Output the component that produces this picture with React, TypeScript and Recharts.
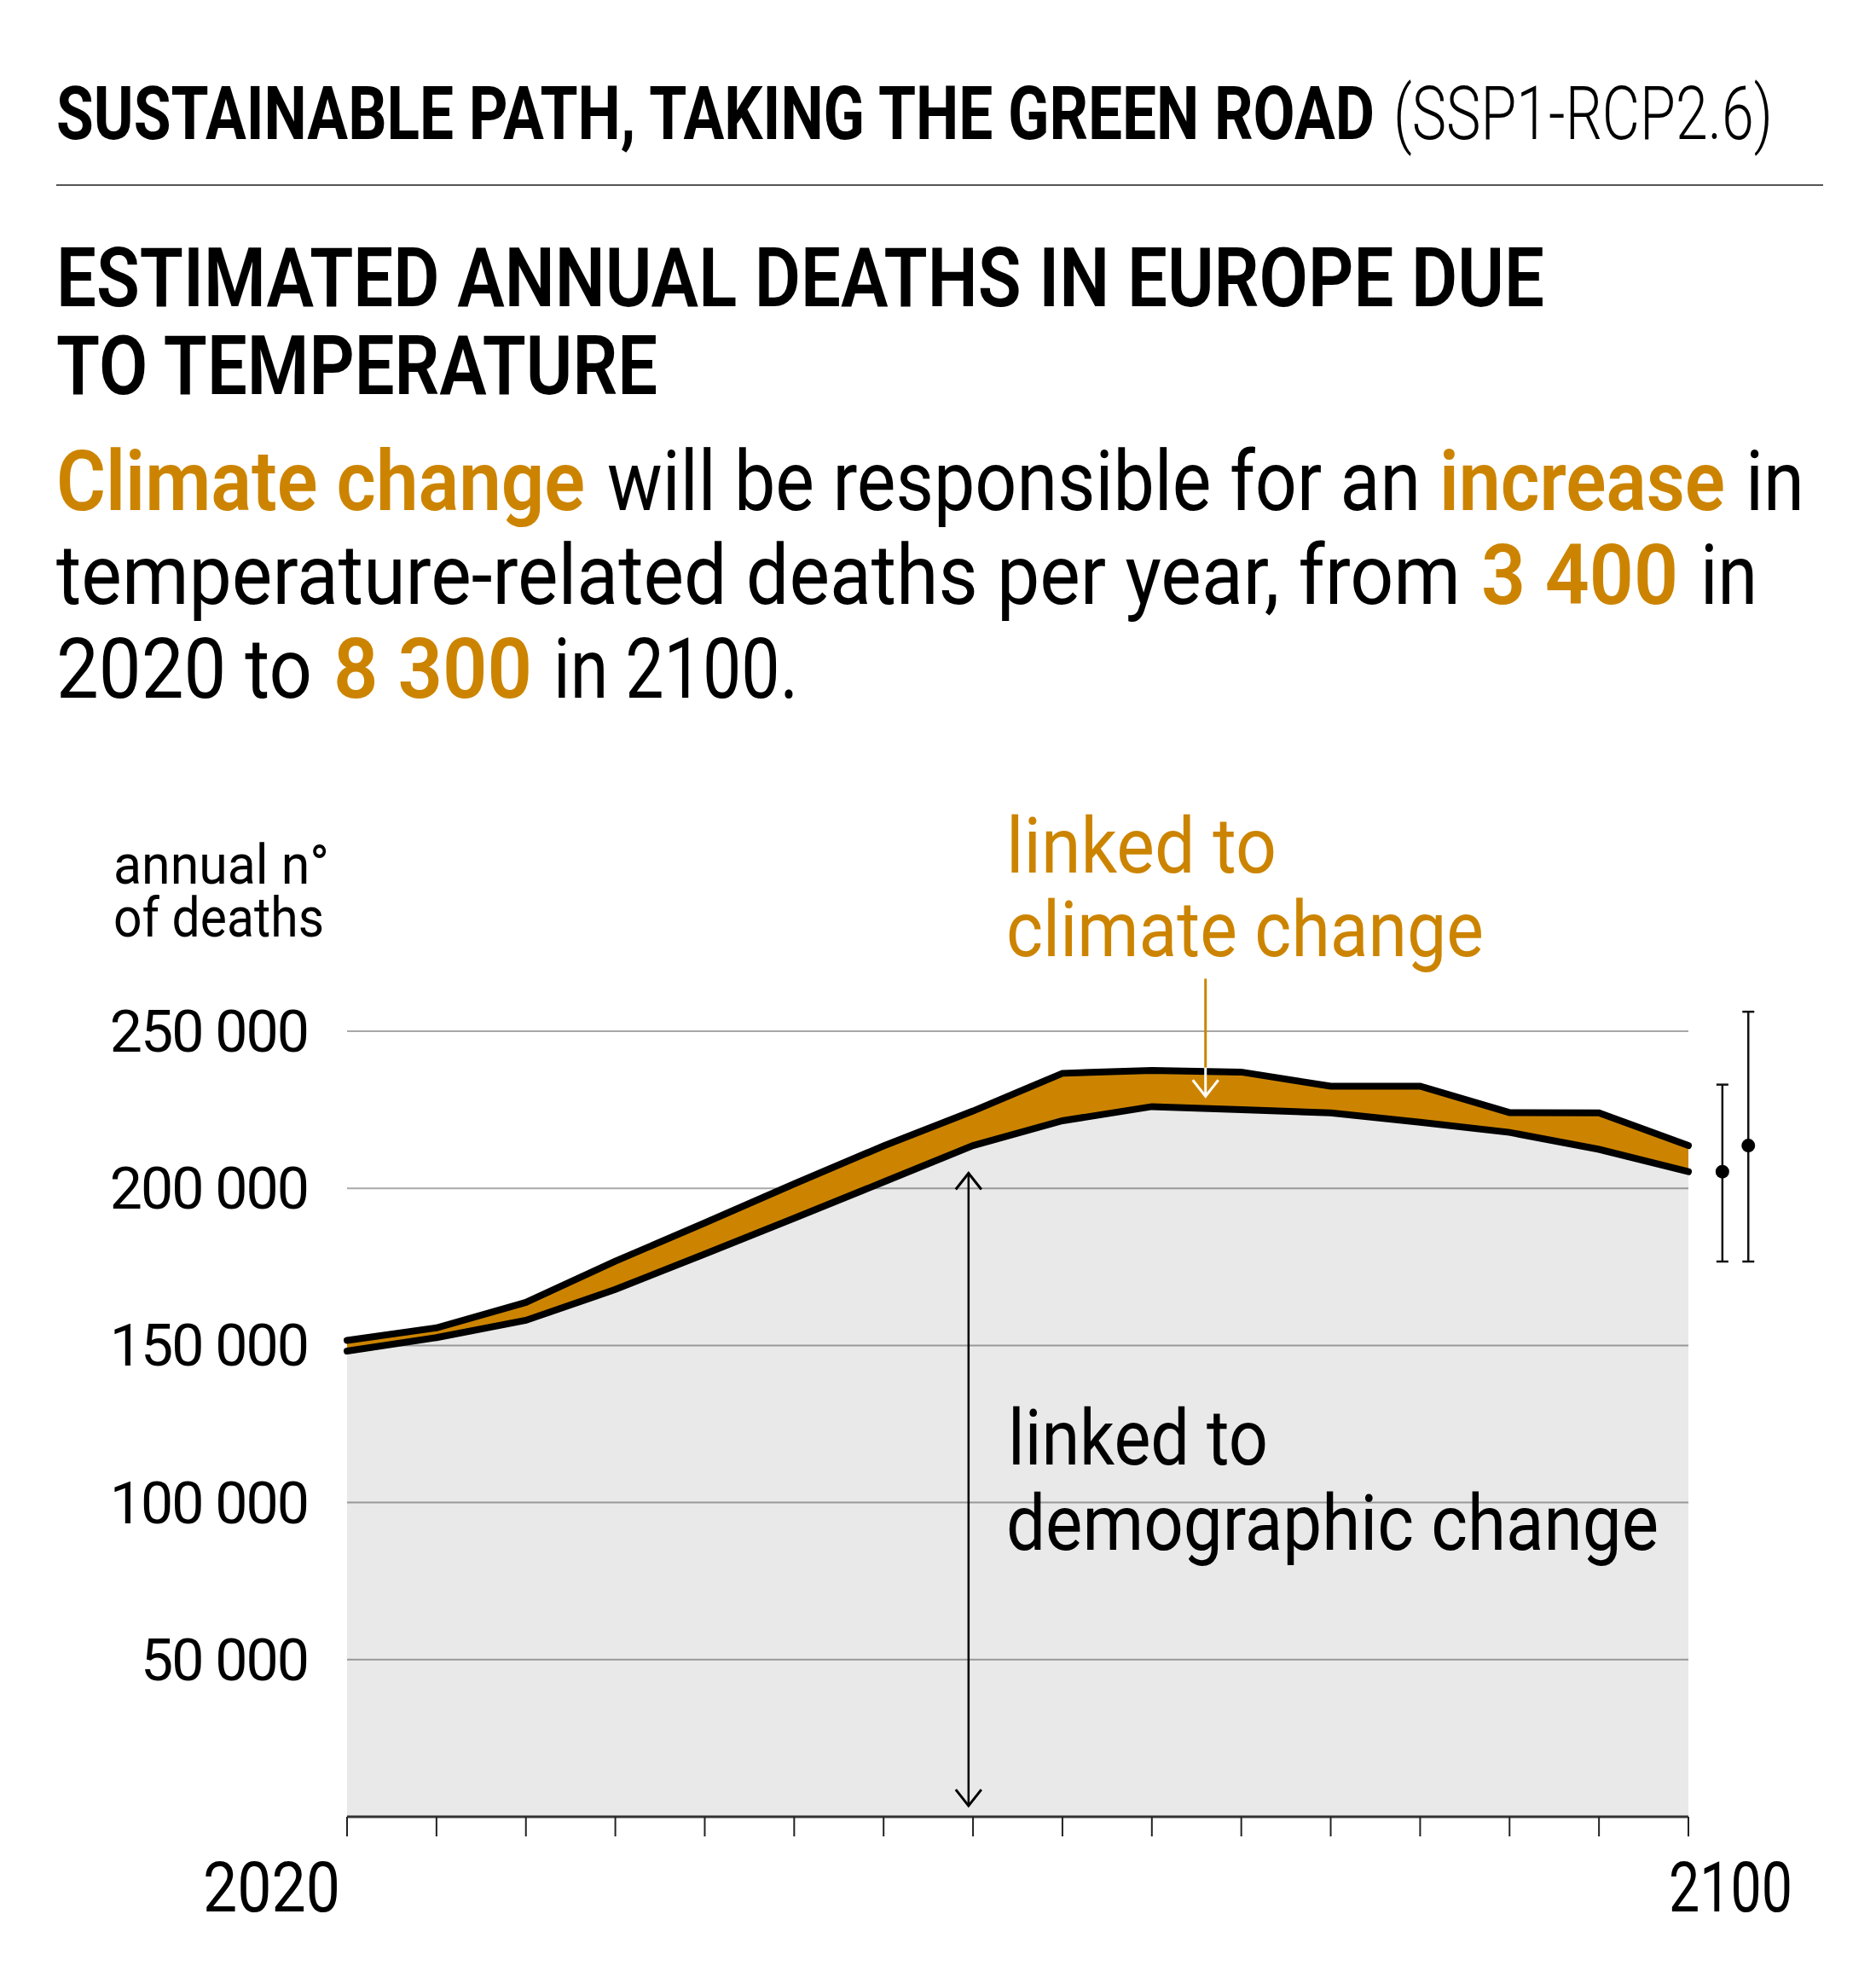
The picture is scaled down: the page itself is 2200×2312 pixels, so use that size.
import React from "react";
import {
  ComposedChart, Area, Line, XAxis, YAxis, CartesianGrid,
  ReferenceLine, ReferenceDot,
} from "recharts";

const ORANGE = "#CC8400";
const FONT = "Roboto, 'Noto Sans', sans-serif";

// 16 periods, only the ends are labelled
const PERIOD_LABELS = ["2020", "", "", "", "", "", "", "", "", "", "", "", "", "", "", "2100"];
const DEMOGRAPHIC = [148200, 152500, 158000, 167800, 179100, 190500, 202000, 213600, 221500, 226000, 225000, 224000, 221000, 217800, 212400, 205300];
const TOTAL = [151600, 155600, 163700, 176800, 189000, 201400, 213500, 224600, 236600, 237500, 237000, 232500, 232500, 224100, 224000, 213600];
const Y_TICKS = [50000, 100000, 150000, 200000, 250000];

// 2100 uncertainty ranges: demographic only, then demographic + climate
const RANGE_LOW = [176700, 176700];
const RANGE_MID = [205300, 213600];
const RANGE_HIGH = [233000, 256200];
const BAR_X = [15.38, 15.67];

const data = PERIOD_LABELS.map((label, i) => ({
  i,
  label,
  demographic: DEMOGRAPHIC[i],
  total: TOTAL[i],
  band: [DEMOGRAPHIC[i], TOTAL[i]],
}));

const fmt = (v: number) => String(v).replace(/\B(?=(\d{3})+(?!\d))/g, " ");

function XTick({ x, y, payload }: any) {
  const label = PERIOD_LABELS[payload.value];
  if (!label) return null;
  const first = payload.value === 0;
  return (
    <text
      x={first ? x - 8 : x - 23} y={y + 86}
      textAnchor={first ? "end" : "start"}
      fontFamily={FONT} fontSize={82} fill="#000"
      textLength={first ? 161 : 145} lengthAdjust="spacingAndGlyphs"
    >
      {label}
    </text>
  );
}

function YTick({ x, y, payload }: any) {
  return (
    <text x={x} y={y + 24} textAnchor="end" fontFamily={FONT} fontSize={68}
      letterSpacing={-2} fill="#000">
      {fmt(payload.value)}
    </text>
  );
}

const ErrorBarShape = (p: any) => (
  <g stroke="#111" strokeWidth={2.5}>
    <line x1={p.x1} y1={p.y1} x2={p.x2} y2={p.y2} />
    <line x1={p.x1 - 7} y1={p.y1} x2={p.x1 + 7} y2={p.y1} />
    <line x1={p.x2 - 7} y1={p.y2} x2={p.x2 + 7} y2={p.y2} />
  </g>
);

const chevron = (x: number, y: number, dir: number, color: string) => (
  <polyline
    points={`${x - 15},${y - dir * 19} ${x},${y} ${x + 15},${y - dir * 19}`}
    fill="none" stroke={color} strokeWidth={3}
  />
);

const DoubleArrow = (p: any) => {
  const top = Math.min(p.y1, p.y2);
  const bot = Math.max(p.y1, p.y2);
  return (
    <g>
      <line x1={p.x1} y1={top} x2={p.x1} y2={bot} stroke="#000" strokeWidth={2.5} />
      {chevron(p.x1, top, -1, "#000")}
      {chevron(p.x1, bot, 1, "#000")}
    </g>
  );
};

const WhiteArrowTip = (p: any) => {
  const bot = Math.max(p.y1, p.y2);
  return (
    <g>
      <line x1={p.x1} y1={Math.min(p.y1, p.y2)} x2={p.x1} y2={bot} stroke="#fff" strokeWidth={3} />
      {chevron(p.x1, bot, 1, "#fff")}
    </g>
  );
};

// one text run, squeezed to the width it has in the print layout
function Run({ x, y, w, size, weight = 400, color = "#000", children }: any) {
  return (
    <text x={x} y={y} fontFamily={FONT} fontSize={size} fontWeight={weight} fill={color}
      textLength={w} lengthAdjust="spacingAndGlyphs">
      {children}
    </text>
  );
}

export default function App() {
  return (
    <div style={{ position: "absolute", left: 0, top: 0, width: 2200, height: 2312, background: "#fff" }}>
      <ComposedChart
        width={2200} height={2312} data={data}
        margin={{ top: 1209, right: 220, bottom: 0, left: 0 }}
      >
        <CartesianGrid vertical={false} stroke="#a8a8a8" strokeWidth={2} />
        <XAxis
          dataKey="i" type="number" domain={[0, 15]}
          ticks={data.map((d) => d.i)} interval={0} height={182}
          tickSize={23}
          axisLine={{ stroke: "#333", strokeWidth: 3 }}
          tickLine={{ stroke: "#222", strokeWidth: 2 }}
          tick={<XTick />}
        />
        <YAxis
          type="number" domain={[0, 250000]} ticks={Y_TICKS} width={407}
          axisLine={false} tickLine={false} tickSize={0} tickMargin={46}
          tick={<YTick />}
        />
        <Area dataKey="demographic" fill="#000" fillOpacity={0.085} stroke="none"
          isAnimationActive={false} />
        <Area dataKey="band" fill={ORANGE} fillOpacity={1} stroke="none"
          isAnimationActive={false} />
        <Line dataKey="demographic" stroke="#000" strokeWidth={8} dot={false}
          strokeLinecap="round" isAnimationActive={false} />
        <Line dataKey="total" stroke="#000" strokeWidth={8} dot={false}
          strokeLinecap="round" isAnimationActive={false} />

        {/* annotation arrows */}
        <ReferenceLine segment={[{ x: 6.95, y: 204800 }, { x: 6.95, y: 3500 }]}
          ifOverflow="visible" shape={DoubleArrow} />
        <ReferenceLine segment={[{ x: 9.6, y: 266700 }, { x: 9.6, y: 238400 }]}
          ifOverflow="visible" stroke={ORANGE} strokeWidth={3} />
        <ReferenceLine segment={[{ x: 9.6, y: 238400 }, { x: 9.6, y: 229300 }]}
          ifOverflow="visible" shape={WhiteArrowTip} />

        {/* 2100 ranges */}
        {BAR_X.map((bx, k) => (
          <ReferenceLine key={`eb${k}`} ifOverflow="visible" shape={ErrorBarShape}
            segment={[{ x: bx, y: RANGE_HIGH[k] }, { x: bx, y: RANGE_LOW[k] }]} />
        ))}
        {BAR_X.map((bx, k) => (
          <ReferenceDot key={`ed${k}`} x={bx} y={RANGE_MID[k]} r={8}
            fill="#000" stroke="none" ifOverflow="visible" />
        ))}
      </ComposedChart>

      <svg width={2200} height={2312}
        style={{ position: "absolute", left: 0, top: 0, pointerEvents: "none" }}>
        {/* header */}
        <Run x={66} y={163} w={1546} size={88} weight={700}>SUSTAINABLE PATH, TAKING THE GREEN ROAD</Run>
        <Run x={1634} y={163} w={445} size={88} weight={300}>(SSP1-RCP2.6)</Run>
        <line x1={66} y1={217} x2={2138} y2={217} stroke="#555" strokeWidth={2} />

        <Run x={66} y={359} w={1745} size={97} weight={600}>ESTIMATED ANNUAL DEATHS IN EUROPE DUE</Run>
        <Run x={66} y={462} w={705} size={97} weight={600}>TO TEMPERATURE</Run>

        <Run x={66} y={598} w={620} size={98} weight={600} color={ORANGE}>Climate change</Run>
        <Run x={712} y={598} w={954} size={98}>will be responsible for an</Run>
        <Run x={1688} y={598} w={335} size={98} weight={600} color={ORANGE}>increase</Run>
        <Run x={2047} y={598} w={69} size={98}>in</Run>

        <Run x={66} y={708} w={1647} size={98}>temperature-related deaths per year, from</Run>
        <Run x={1737} y={708} w={231} size={98} weight={600} color={ORANGE}>3 400</Run>
        <Run x={1994} y={708} w={67} size={98}>in</Run>

        <Run x={66} y={818} w={300} size={98}>2020 to</Run>
        <Run x={391} y={818} w={233} size={98} weight={600} color={ORANGE}>8 300</Run>
        <Run x={649} y={818} w={287} size={98}>in 2100.</Run>

        {/* chart annotations */}
        <Run x={133} y={1036} w={253} size={64}>annual n°</Run>
        <Run x={133} y={1098} w={247} size={64}>of deaths</Run>

        <Run x={1180} y={1023} w={317} size={90} color={ORANGE}>linked to</Run>
        <Run x={1180} y={1121} w={560} size={90} color={ORANGE}>climate change</Run>

        <Run x={1182} y={1717} w={305} size={90}>linked to</Run>
        <Run x={1180} y={1817} w={765} size={90}>demographic change</Run>
      </svg>
    </div>
  );
}
